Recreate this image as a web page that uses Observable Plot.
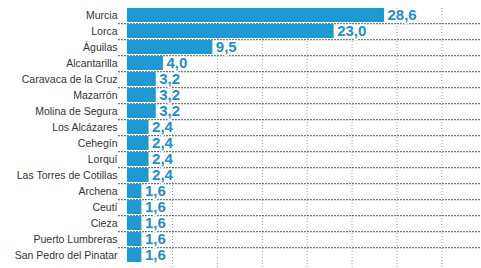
<!DOCTYPE html>
<html><head><meta charset="utf-8">
<script src="https://cdn.jsdelivr.net/npm/d3@7"></script>
<script src="https://cdn.jsdelivr.net/npm/@observablehq/plot@0.6"></script>
<style>body{margin:0;overflow:hidden;background:#fff}</style>
</head><body><div id="chart"></div>
<script>
const municipios = ["Murcia","Lorca","Águilas","Alcantarilla","Caravaca de la Cruz","Mazarrón","Molina de Segura","Los Alcázares","Cehegín","Lorquí","Las Torres de Cotillas","Archena","Ceutí","Cieza","Puerto Lumbreras","San Pedro del Pinatar"];
const valores = [28.6,23.0,9.5,4.0,3.2,3.2,3.2,2.4,2.4,2.4,2.4,1.6,1.6,1.6,1.6,1.6];
const gridTicks = [5,10,15,20,25,30,35];
const data = municipios.map((m,i)=>({m, v: valores[i]}));
const fmt = v => v.toFixed(1).replace(".", ",");
const H = 271, MT = 8;
const step = (H - MT) / municipios.length;
const plot = Plot.plot({
  width: 481, height: H,
  marginLeft: 127, marginRight: 0, marginTop: MT, marginBottom: 0,
  style: {fontFamily: "Liberation Sans, Arial, sans-serif", background: "#fff"},
  x: {domain: [0, 39.4], axis: null},
  y: {domain: municipios, padding: 0.12, align: 0, label: null},
  marks: [
    Plot.ruleX(gridTicks, {stroke: "#888", strokeWidth: 0.8, strokeDasharray: "1,2"}),
    Plot.ruleY(municipios.slice(0, -1), {y: d => d, dy: step / 2, x1: -1, x2: 39.4, stroke: "#333", strokeWidth: 1, strokeDasharray: "2,1", strokeOpacity: 0.85}),
    Plot.barX(data, {y: "m", x: "v", fill: "#1b9ad6"}),
    Plot.text(data, {y: "m", x: "v", text: d => fmt(d.v), textAnchor: "start", dx: 3, fill: "#1a8fd0", stroke: "white", strokeWidth: 3, fontWeight: "bold", fontSize: 15}),
    Plot.axisY({tickSize: 0, tickPadding: 10, fontSize: 10.5, fill: "#333"})
  ]
});
document.getElementById("chart").append(plot);
</script></body></html>
